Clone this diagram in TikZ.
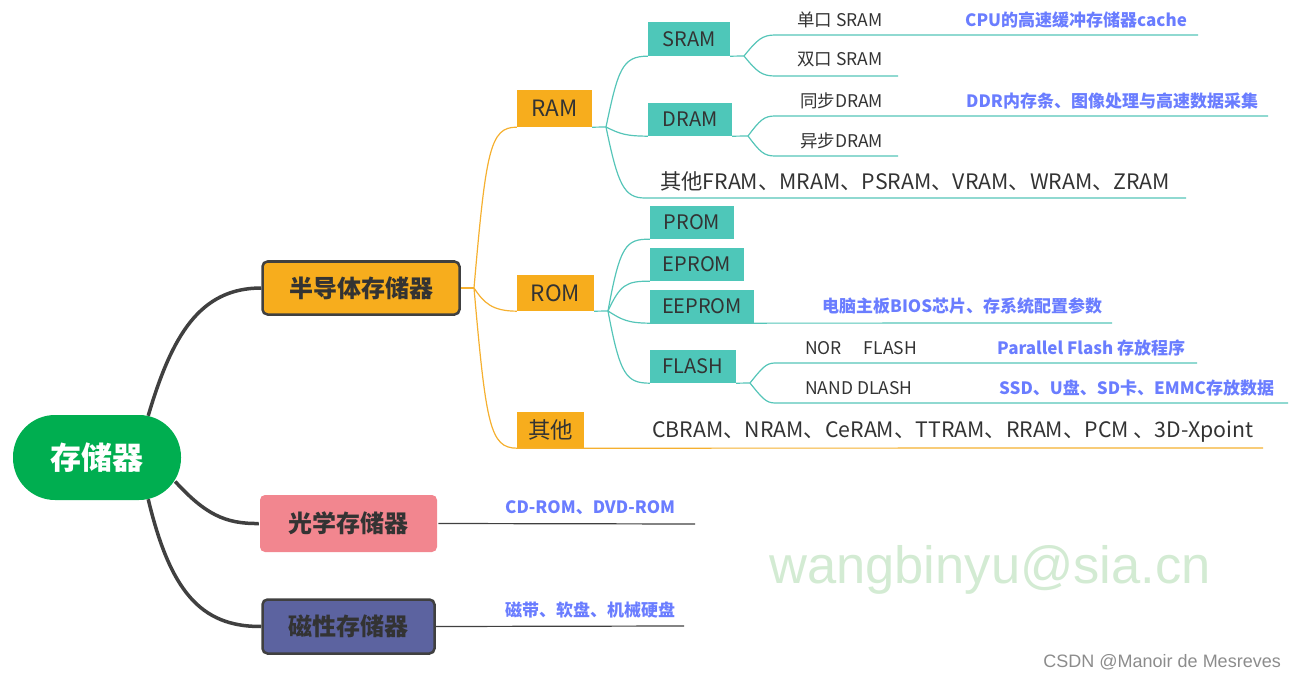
\documentclass[tikz,border=0pt]{standalone}
\usepackage{fontspec}
\setmainfont{Noto Sans CJK SC}
\newfontfamily\wmfont{Liberation Sans}
\usetikzlibrary{calc}
\definecolor{txt}{HTML}{333333}
\definecolor{rootG}{HTML}{00AE50}
\definecolor{orgF}{HTML}{F7AD1D}
\definecolor{orgL}{HTML}{F5B030}
\definecolor{tealF}{HTML}{4EC7B9}
\definecolor{tealL}{HTML}{55C5B8}
\definecolor{pinkF}{HTML}{F2868F}
\definecolor{purpF}{HTML}{5C63A0}
\definecolor{edge}{HTML}{404040}
\definecolor{noteB}{HTML}{6A7DFF}
\definecolor{wmG}{HTML}{D3EBD3}
\definecolor{wmGray}{HTML}{8C8C8C}
\begin{document}
\begin{tikzpicture}[x=1pt,y=-1pt,
 rootbox/.style={fill=rootG, rounded corners=42pt, minimum width=168pt, minimum height=85pt, inner sep=0, text=white, font=\bfseries\fontsize{31}{36}\selectfont},
 mainbox/.style={rounded corners=5pt, line width=2.5pt, inner sep=0, text=txt, font=\bfseries\fontsize{24}{28}\selectfont},
 obox/.style={fill=orgF, inner sep=0, text=txt, font=\fontsize{22.5}{26}\selectfont},
 tbox/.style={fill=tealF, inner sep=0, minimum height=33pt, text=txt, font=\fontsize{20}{24}\selectfont},
 leaf/.style={anchor=west, inner sep=0, text=txt, font=\fontsize{17.5}{20}\selectfont},
 bigleaf/.style={anchor=west, inner sep=0, text=txt, font=\fontsize{21.3}{24}\selectfont},
 note/.style={anchor=west, inner sep=0, text=noteB, font=\bfseries\fontsize{17}{20}\selectfont},
 rline/.style={draw=edge, line width=3.5pt},
 dline/.style={draw=edge, line width=1.2pt},
 oline/.style={draw=orgL, line width=1.2pt},
 tline/.style={draw=tealL, line width=1.2pt},
]
\useasboundingbox (0,0) rectangle (1296,679);

% main nodes
\node[rootbox] (root) at (97,457.5) {存储器};
\node[mainbox, draw=edge, fill=orgF, minimum width=197pt, minimum height=53pt] (semi) at (361,288) {半导体存储器};
\node[mainbox, fill=pinkF, minimum width=177pt, minimum height=57pt] (opt) at (348.5,523.5) {光学存储器};
\node[mainbox, draw=edge, fill=purpF, minimum width=172pt, minimum height=54pt] (mag) at (348.5,626.5) {磁性存储器};

% level 2
\node[obox, minimum width=75pt, minimum height=37pt] (ram) at (554.5,108.5) {RAM};
\node[obox, minimum width=77pt, minimum height=36pt] (rom) at (555.5,293) {ROM};
\node[obox, minimum width=67pt, minimum height=36pt] (oth) at (550.5,430) {其他};

% level 3
\node[tbox, minimum width=82pt, minimum height=34pt] (sram) at (689,39) {SRAM};
\node[tbox, minimum width=84pt] (dram) at (690,119.5) {DRAM};
\node[tbox, minimum width=84pt] (prom) at (692,222.5) {PROM};
\node[tbox, minimum width=94pt] (eprom) at (697,264.5) {EPROM};
\node[tbox, minimum width=104pt] (eeprom) at (702,306.5) {EEPROM};
\node[tbox, minimum width=86pt] (flash) at (693,366.5) {FLASH};

% leaves and notes
\node[leaf] (s1) at (797,20) {单口 SRAM};
\node[note] (n1) at (965,20) {CPU的高速缓冲存储器cache};
\node[leaf] (s2) at (797,60) {双口 SRAM};
\node[leaf] (d1) at (800,101) {同步DRAM};
\node[note] (n2) at (966,101) {DDR内存条、图像处理与高速数据采集};
\node[leaf] (d2) at (800,141) {异步DRAM};
\node[bigleaf] (ro) at (660,181) {其他FRAM、MRAM、PSRAM、VRAM、WRAM、ZRAM};
\node[note] (n3) at (822,306) {电脑主板BIOS芯片、存系统配置参数};
\node[leaf] (f1) at (805,348) {NOR\hspace{22pt}FLASH};
\node[note] (n4) at (997,348) {Parallel Flash 存放程序};
\node[leaf] (f2) at (805,388) {NAND DLASH};
\node[note] (n5) at (999,388) {SSD、U盘、SD卡、EMMC存放数据};
\node[bigleaf] (oo) at (652,432) {CBRAM、NRAM、CeRAM、TTRAM、RRAM、PCM 、3D-Xpoint};
\node[note] (n6) at (505,508) {CD-ROM、DVD-ROM};
\node[note] (n7) at (505,610) {磁带、软盘、机械硬盘};

% junctions and line ends
\coordinate (sj) at (474,288);
\coordinate (rj) at (606,127);
\coordinate (srj) at (744,56);
\coordinate (drj) at (748,136);
\coordinate (roj) at (608,311);
\coordinate (flj) at (750,383);
\coordinate (othEnd) at (1263,448);
\coordinate (ramOthS) at (645,198);
\coordinate (ramOthE) at (1186,198);
\coordinate (s1a) at (775,35);  \coordinate (s1b) at (1198,35);
\coordinate (s2a) at (775,76);  \coordinate (s2b) at (898,76);
\coordinate (d1a) at (775,116); \coordinate (d1b) at (1268,116);
\coordinate (d2a) at (775,156); \coordinate (d2b) at (898,156);
\coordinate (eeEnd) at (1112,323);
\coordinate (f1a) at (775,363); \coordinate (f1b) at (1197,363);
\coordinate (f2a) at (775,403); \coordinate (f2b) at (1288,403);
\coordinate (optEnd) at (695,524);
\coordinate (magEnd) at (684,626);

% root connectors
\draw[rline] ($(root.north east)+(-33,1)$) .. controls (172,335) and (200,288) .. (semi.west);
\draw[rline] ($(root.east)+(-6,24)$) .. controls (205,514) and (225,524) .. (opt.west);
\draw[rline] ($(root.south east)+(-33,-1)$) .. controls (170,590) and (200,627) .. (mag.west);
\draw[dline] (opt.east) -- (optEnd);
\draw[dline] (mag.east) -- (magEnd);

% orange
\draw[oline] (semi.east) -- (sj);
\draw[oline] (sj) .. controls (486,150) and (490,127) .. (ram.south west);
\draw[oline] (sj) .. controls (484,303) and (492,311) .. (rom.south west);
\draw[oline] (sj) .. controls (486,425) and (490,448) .. (oth.south west) -- (othEnd);

% teal RAM
\draw[tline] (ram.south east) -- (rj);
\draw[tline] (rj) .. controls (618,70) and (622,56) .. (sram.south west);
\draw[tline] (rj) .. controls (620,134) and (626,136) .. (dram.south west);
\draw[tline] (rj) .. controls (618,185) and (624,198) .. (ramOthS) -- (ramOthE);
\draw[tline] (sram.south east) -- (srj);
\draw[tline] (srj) .. controls (757,40) and (762,35) .. (s1a) -- (s1b);
\draw[tline] (srj) .. controls (757,72) and (762,76) .. (s2a) -- (s2b);
\draw[tline] (dram.south east) -- (drj);
\draw[tline] (drj) .. controls (760,120) and (764,116) .. (d1a) -- (d1b);
\draw[tline] (drj) .. controls (760,152) and (764,156) .. (d2a) -- (d2b);

% teal ROM
\draw[tline] (rom.south east) -- (roj);
\draw[tline] (roj) .. controls (620,245) and (626,239) .. (prom.south west);
\draw[tline] (roj) .. controls (620,285) and (626,281) .. (eprom.south west);
\draw[tline] (roj) .. controls (622,320) and (628,323) .. (eeprom.south west) -- (eeEnd);
\draw[tline] (roj) .. controls (620,375) and (626,383) .. (flash.south west);
\draw[tline] (flash.south east) -- (flj);
\draw[tline] (flj) .. controls (762,368) and (766,363) .. (f1a) -- (f1b);
\draw[tline] (flj) .. controls (762,398) and (766,403) .. (f2a) -- (f2b);

% watermarks
\node[text=wmG, font=\wmfont\fontsize{52.5}{58}\selectfont, inner sep=0] (wm) at (990,570) {wangbinyu@sia.cn};
\node[text=wmGray, font=\wmfont\fontsize{18}{20}\selectfont, inner sep=0, anchor=east] (csdn) at (1281,662) {CSDN @Manoir de Mesreves};
\end{tikzpicture}
\end{document}
